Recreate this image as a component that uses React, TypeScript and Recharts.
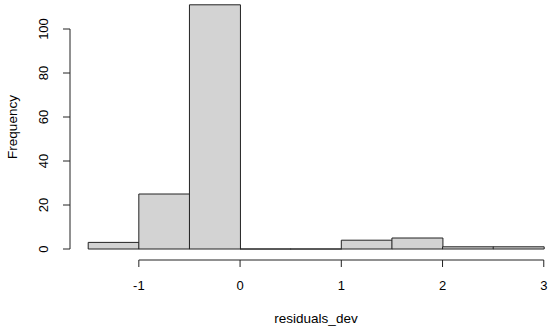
import { ComposedChart, Bar, XAxis, YAxis, ReferenceLine, Label } from 'recharts';

const binStarts = [-1.5, -1, -0.5, 0, 0.5, 1, 1.5, 2, 2.5];
const binWidth = 0.5;
const counts = [3, 25, 111, 0, 0, 4, 5, 1, 1];
const xTicks = [-1, 0, 1, 2, 3];
const yTicks = [0, 20, 40, 60, 80, 100];
const yDomain = [-5, 112];

const data = binStarts.map((start, i) => ({
  bin: `${start}`,
  mid: start + binWidth / 2,
  count: counts[i],
}));

const font = '"Liberation Sans", Arial, Helvetica, sans-serif';
// R pads the x range by 4% on each side: 0.18 units = 18.2px here
const xExt = 0.18;
const xPad = 18.2;

// R draws zero-count bins as a flat rectangle, so use a path instead of <rect>
const HistBar = (props: any) => {
  const { x, y, width, height } = props;
  return (
    <path
      d={`M${x},${y}h${width}v${height}h${-width}Z`}
      fill="#d3d3d3"
      stroke="#222"
      strokeWidth={1}
    />
  );
};

const XTick = (props: any) => {
  const { x, payload } = props;
  return (
    <text x={x} y={285} textAnchor="middle" dominantBaseline="central" fontSize={13} fontFamily={font} fill="#000">
      {payload.value}
    </text>
  );
};

const YTick = (props: any) => {
  const { y, payload } = props;
  return (
    <text
      x={43}
      y={y}
      transform={`rotate(-90 43 ${y})`}
      textAnchor="middle"
      dominantBaseline="central"
      fontSize={13}
      fontFamily={font}
      fill="#000"
    >
      {payload.value}
    </text>
  );
};

// y title plus the y axis line, which in R only spans first..last tick
const YTitle = (props: any) => {
  const vb = props.viewBox && props.viewBox.height ? props.viewBox : { x: 0, y: 2.6, width: 70, height: 257.4 };
  const yOf = (v: number) => vb.y + (vb.height * (yDomain[1] - v)) / (yDomain[1] - yDomain[0]);
  const ax = vb.x + vb.width;
  return (
    <g>
      <line x1={ax} x2={ax} y1={yOf(yTicks[0])} y2={yOf(yTicks[yTicks.length - 1])} stroke="#222" strokeWidth={1} />
      <text
        x={12}
        y={127}
        transform="rotate(-90 12 127)"
        textAnchor="middle"
        dominantBaseline="central"
        fontSize={13.5}
        fontFamily={font}
        fill="#000"
      >
        Frequency
      </text>
    </g>
  );
};

export default function App() {
  return (
    <div style={{ position: 'absolute', left: 0, top: 0, width: 550, height: 330, overflow: 'hidden', background: '#fff' }}>
      <ComposedChart
        width={562}
        height={330}
        data={data}
        margin={{ top: 2.6, right: 0, bottom: 0, left: 0 }}
        barCategoryGap={0}
      >
        <XAxis
          xAxisId="num"
          dataKey="mid"
          type="number"
          domain={[-1.5 - xExt, 3 + xExt]}
          ticks={xTicks}
          height={70}
          axisLine={false}
          tickSize={7}
          tickLine={{ stroke: '#222' }}
          tick={<XTick />}
        >
          <Label
            content={() => (
              <text x={316} y={318} textAnchor="middle" dominantBaseline="central" fontSize={13.5} fontFamily={font} fill="#000">
                residuals_dev
              </text>
            )}
          />
        </XAxis>
        <XAxis xAxisId="bins" dataKey="bin" type="category" hide height={0} padding={{ left: xPad, right: xPad }} />
        <YAxis
          type="number"
          domain={yDomain}
          ticks={yTicks}
          width={70}
          axisLine={false}
          tickSize={7}
          tickLine={{ stroke: '#222' }}
          tick={<YTick />}
        >
          <Label content={(p: any) => <YTitle {...p} />} />
        </YAxis>
        <ReferenceLine
          xAxisId="num"
          segment={[{ x: -1, y: -5 }, { x: 3, y: -5 }]}
          stroke="#222"
          ifOverflow="visible"
        />
        <Bar xAxisId="bins" dataKey="count" shape={<HistBar />} isAnimationActive={false} />
      </ComposedChart>
    </div>
  );
}
